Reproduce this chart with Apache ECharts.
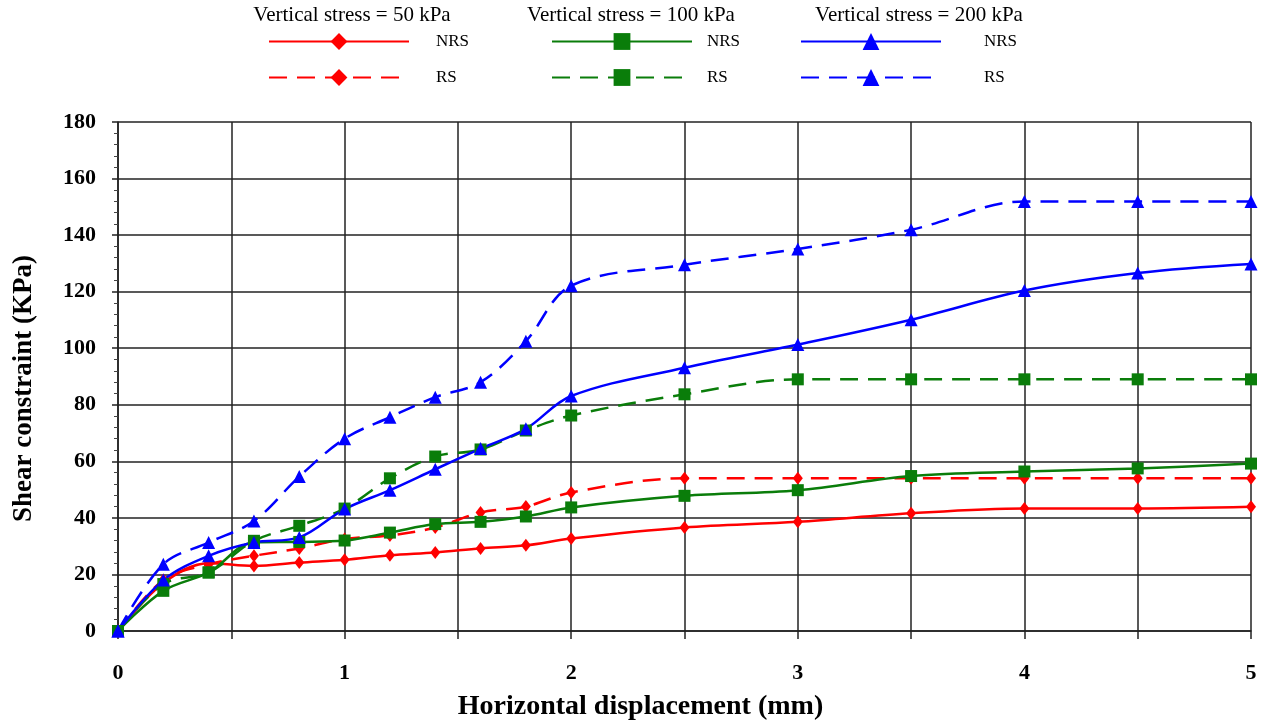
<!DOCTYPE html>
<html>
<head>
<meta charset="utf-8">
<script src="https://cdn.jsdelivr.net/npm/echarts@6/dist/echarts.min.js"></script>
<style>
  html, body { margin: 0; padding: 0; background: #fff; }
  #main { width: 1267px; height: 726px; }
</style>
</head>
<body>
<div id="main"></div>
<script>
// horizontal displacement (mm)
var disp = [0, 0.2, 0.4, 0.6, 0.8, 1, 1.2, 1.4, 1.6, 1.8, 2, 2.5, 3, 3.5, 4, 4.5, 5];

// shear constraint (kPa) for each vertical stress
var s50nrs  = [0, 17, 24, 23, 24.2, 25.2, 26.8, 27.8, 29.2, 30.3, 32.7, 36.6, 38.6, 41.6, 43.3, 43.3, 43.9];
var s50rs   = [0, 18, 23.6, 26.6, 29.2, 32.5, 33.8, 36.6, 41.9, 44, 49, 54, 54, 54, 54, 54, 54];
var s100nrs = [0, 14.2, 20.7, 31.3, 31.5, 32, 34.8, 37.8, 38.6, 40.5, 43.7, 47.8, 49.8, 54.8, 56.4, 57.5, 59.2];
var s100rs  = [0, 16.6, 20.7, 31.9, 37.2, 43.3, 54, 61.7, 64.2, 70.9, 76.2, 83.7, 89, 89, 89, 89, 89];
var s200nrs = [0, 18, 26.6, 31.3, 33.1, 43.1, 49.8, 57.2, 64.5, 71.5, 83.1, 93.1, 101.3, 110.1, 120.4, 126.6, 129.8];
var s200rs  = [0, 23.6, 31.3, 38.9, 54.6, 68, 75.6, 82.7, 88, 102.5, 122.1, 129.5, 135.1, 141.9, 151.9, 151.9, 151.9];

var headers = ['Vertical stress = 50 kPa', 'Vertical stress = 100 kPa', 'Vertical stress = 200 kPa'];

var serif = "'Liberation Serif', 'Times New Roman', serif";
var RED = '#ff0000', GREEN = '#0a7d0a', BLUE = '#0000ff';

function pairs(ys) {
    return disp.map(function (x, i) { return [x, ys[i]]; });
}

function line(name, ys, color, symbol, size, dashed) {
    return {
        name: name,
        type: 'line',
        data: pairs(ys),
        smooth: 0.35,
        symbol: symbol,
        symbolSize: size,
        itemStyle: { color: color },
        lineStyle: { color: color, width: 2.5, type: dashed ? [18, 10] : 'solid' },
        emphasis: { disabled: true }
    };
}

function legendItem(name, left, top, textGap) {
    return {
        data: [name],
        left: left,
        top: top,
        padding: 0,
        itemWidth: 140,
        itemHeight: 21,
        selectedMode: false,
        formatter: function (n) { return n.split(' ').pop(); },
        textStyle: { fontFamily: serif, fontSize: 17, color: '#000', padding: [3, 0, 0, textGap] }
    };
}

var option = {
    animation: false,
    backgroundColor: '#fff',
    title: [
        { text: headers[0], left: 352, top: 5 },
        { text: headers[1], left: 631, top: 5 },
        { text: headers[2], left: 919, top: 5 }
    ].map(function (t) {
        t.padding = 0;
        t.textAlign = 'center';
        t.textStyle = { fontFamily: serif, fontSize: 21, fontWeight: 'normal', color: '#000' };
        return t;
    }),
    legend: [
        legendItem('50 NRS', 268, 33, 22),
        legendItem('50 RS', 268, 69, 22),
        legendItem('100 NRS', 551, 33, 10),
        legendItem('100 RS', 551, 69, 10),
        legendItem('200 NRS', 800, 33, 38),
        legendItem('200 RS', 800, 69, 38)
    ],
    grid: { left: 118, right: 16, top: 122, bottom: 94 },
    xAxis: {
        type: 'value',
        min: 0,
        max: 5,
        interval: 0.5,
        name: 'Horizontal displacement (mm)',
        nameLocation: 'middle',
        nameGap: 62,
        nameTextStyle: { fontFamily: serif, fontSize: 28, fontWeight: 'bold', color: '#000', padding: [0, 88, 0, 0] },
        axisLine: { lineStyle: { color: '#222', width: 1.5 } },
        axisTick: { show: true, length: 8, lineStyle: { color: '#222', width: 1.5 } },
        axisLabel: {
            margin: 31,
            fontFamily: serif, fontSize: 22, fontWeight: 'bold', color: '#000',
            formatter: function (v) { return v % 1 === 0 ? String(v) : ''; }
        },
        splitLine: { show: true, lineStyle: { color: '#222', width: 1.5 } }
    },
    yAxis: {
        type: 'value',
        min: 0,
        max: 180,
        interval: 20,
        name: 'Shear constraint (KPa)',
        nameLocation: 'middle',
        nameGap: 80,
        nameTextStyle: { fontFamily: serif, fontSize: 27, fontWeight: 'bold', color: '#000', padding: [0, 24, 0, 0] },
        axisLine: { show: true, lineStyle: { color: '#222', width: 1.5 } },
        axisTick: { show: true, length: 6, lineStyle: { color: '#222', width: 1.5 } },
        minorTick: { show: true, splitNumber: 5, length: 4, lineStyle: { color: '#444', width: 1 } },
        axisLabel: { margin: 22, fontFamily: serif, fontSize: 22, fontWeight: 'bold', color: '#000' },
        splitLine: { show: true, lineStyle: { color: '#222', width: 1.5 } }
    },
    series: [
        line('50 NRS', s50nrs, RED, 'diamond', [10, 13], false),
        line('50 RS', s50rs, RED, 'diamond', [10, 13], true),
        line('100 NRS', s100nrs, GREEN, 'rect', 12, false),
        line('100 RS', s100rs, GREEN, 'rect', 12, true),
        line('200 NRS', s200nrs, BLUE, 'triangle', 13, false),
        line('200 RS', s200rs, BLUE, 'triangle', 13, true)
    ]
};

var myChart = echarts.init(document.getElementById('main'));
myChart.setOption(option);
</script>
</body>
</html>
